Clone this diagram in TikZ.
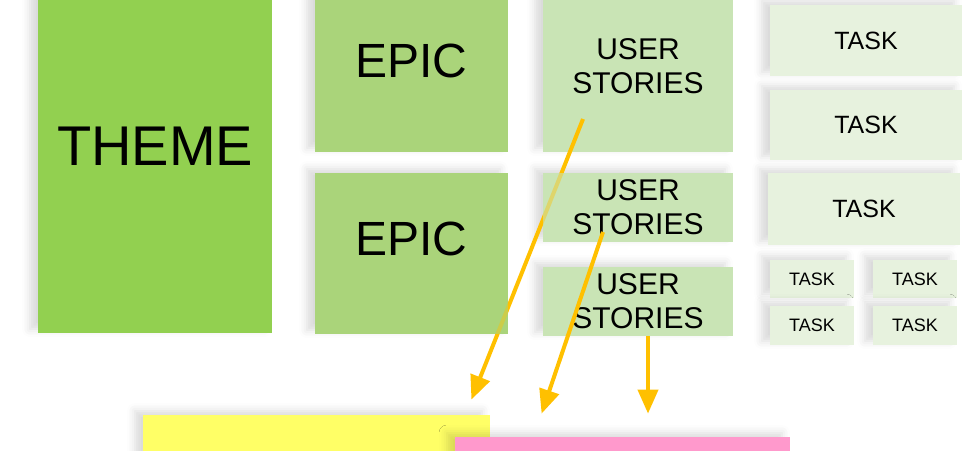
\documentclass[tikz,border=0pt]{standalone}
\usepackage{fontspec}
\setmainfont{Liberation Sans}
\usetikzlibrary{arrows.meta,shadows.blur}

\definecolor{themegreen}{RGB}{146,208,80}
\definecolor{epicgreen}{RGB}{170,212,122}
\definecolor{storygreen}{RGB}{201,228,181}
\definecolor{taskgreen}{RGB}{231,242,222}
\definecolor{noteyellow}{RGB}{255,255,102}
\definecolor{notepink}{RGB}{255,153,204}
\definecolor{arrowgold}{RGB}{255,192,0}

\begin{document}
\begin{tikzpicture}[x=0.5pt,y=-0.5pt,
  note/.style={rectangle,fill=#1,inner sep=0pt,align=center,
    blur shadow={shadow xshift=-4pt,shadow yshift=2pt,
      shadow opacity=15,shadow blur radius=4pt}},
  flow/.style={draw=arrowgold,line width=2pt,
    -{Triangle[width=10pt,length=12pt]}}]

\useasboundingbox (0,0) rectangle (980,450);

% theme and epics:
\node[note=themegreen,minimum width=117pt,minimum height=186.5pt,
  font=\fontsize{28}{30}\selectfont] (theme) at (155,146.5) {THEME};

\node[note=epicgreen,minimum width=96.5pt,minimum height=91pt,
  font=\fontsize{24}{26}\selectfont] (epicA) at (411.5,61) {EPIC};
\node[note=epicgreen,minimum width=96.5pt,minimum height=80.5pt,
  text height=17.2pt,text depth=15.5pt,
  font=\fontsize{24}{26}\selectfont] (epicB) at (411.5,253.5) {EPIC};

% user stories:
\node[note=storygreen,minimum width=95pt,minimum height=86pt,
  font=\fontsize{15}{17}\selectfont] (usA) at (638,66) {USER\\STORIES};
\node[note=storygreen,minimum width=95pt,minimum height=34.5pt,
  font=\fontsize{15}{17}\selectfont] (usB) at (638,207.5) {USER\\STORIES};
\node[note=storygreen,minimum width=95pt,minimum height=34.5pt,
  font=\fontsize{15}{17}\selectfont] (usC) at (638,301.5) {USER\\STORIES};

% tasks:
\node[note=taskgreen,minimum width=96pt,minimum height=35.5pt,
  font=\fontsize{12.5}{14}\selectfont] (taskA) at (866,40.5) {TASK};
\node[note=taskgreen,minimum width=96pt,minimum height=35pt,
  font=\fontsize{12.5}{14}\selectfont] (taskB) at (866,125) {TASK};
\node[note=taskgreen,minimum width=96pt,minimum height=36pt,
  font=\fontsize{12.5}{14}\selectfont] (taskC) at (864,209) {TASK};

\node[note=taskgreen,minimum width=42pt,minimum height=19pt,
  font=\fontsize{9}{10}\selectfont] (taskD) at (812,279) {TASK};
\node[note=taskgreen,minimum width=42pt,minimum height=19pt,
  font=\fontsize{9}{10}\selectfont] (taskE) at (915,279) {TASK};
\node[note=taskgreen,minimum width=42pt,minimum height=19.5pt,
  font=\fontsize{9}{10}\selectfont] (taskF) at (812,325.5) {TASK};
\node[note=taskgreen,minimum width=42pt,minimum height=19.5pt,
  font=\fontsize{9}{10}\selectfont] (taskG) at (915,325.5) {TASK};

% bottom notes:
\node[note=noteyellow,minimum width=173.5pt,minimum height=27.5pt] (yellow) at (316.5,442.5) {};
\node[note=notepink,minimum width=167.5pt,minimum height=21.5pt] (pink) at (622.5,458.5) {};

% arrows:
\coordinate (startA) at ([shift={(-55,53)}]usA.center);
\coordinate (startB) at ([shift={(-35,24.5)}]usB.center);
\coordinate (startC) at ([shift={(10,0)}]usC.south);
\coordinate (endA) at ([shift={(-19,-15)}]yellow.north east);
\coordinate (endB) at ([shift={(87,-23)}]pink.north west);
\coordinate (endC) at ([shift={(25.5,-23)}]pink.north);

\draw[flow] (startA) -- (endA);
\draw[flow] (startB) -- (endB);
\draw[flow] (startC) -- (endC);

% arrow A runs under the second epic and story
\fill[epicgreen,fill opacity=.6] (epicB.south east) rectangle ([shift={(-80,15)}]epicB.east);
\fill[storygreen,fill opacity=.6] (usB.north west) rectangle ([xshift=12pt]usB.south west);

\end{tikzpicture}
\end{document}
